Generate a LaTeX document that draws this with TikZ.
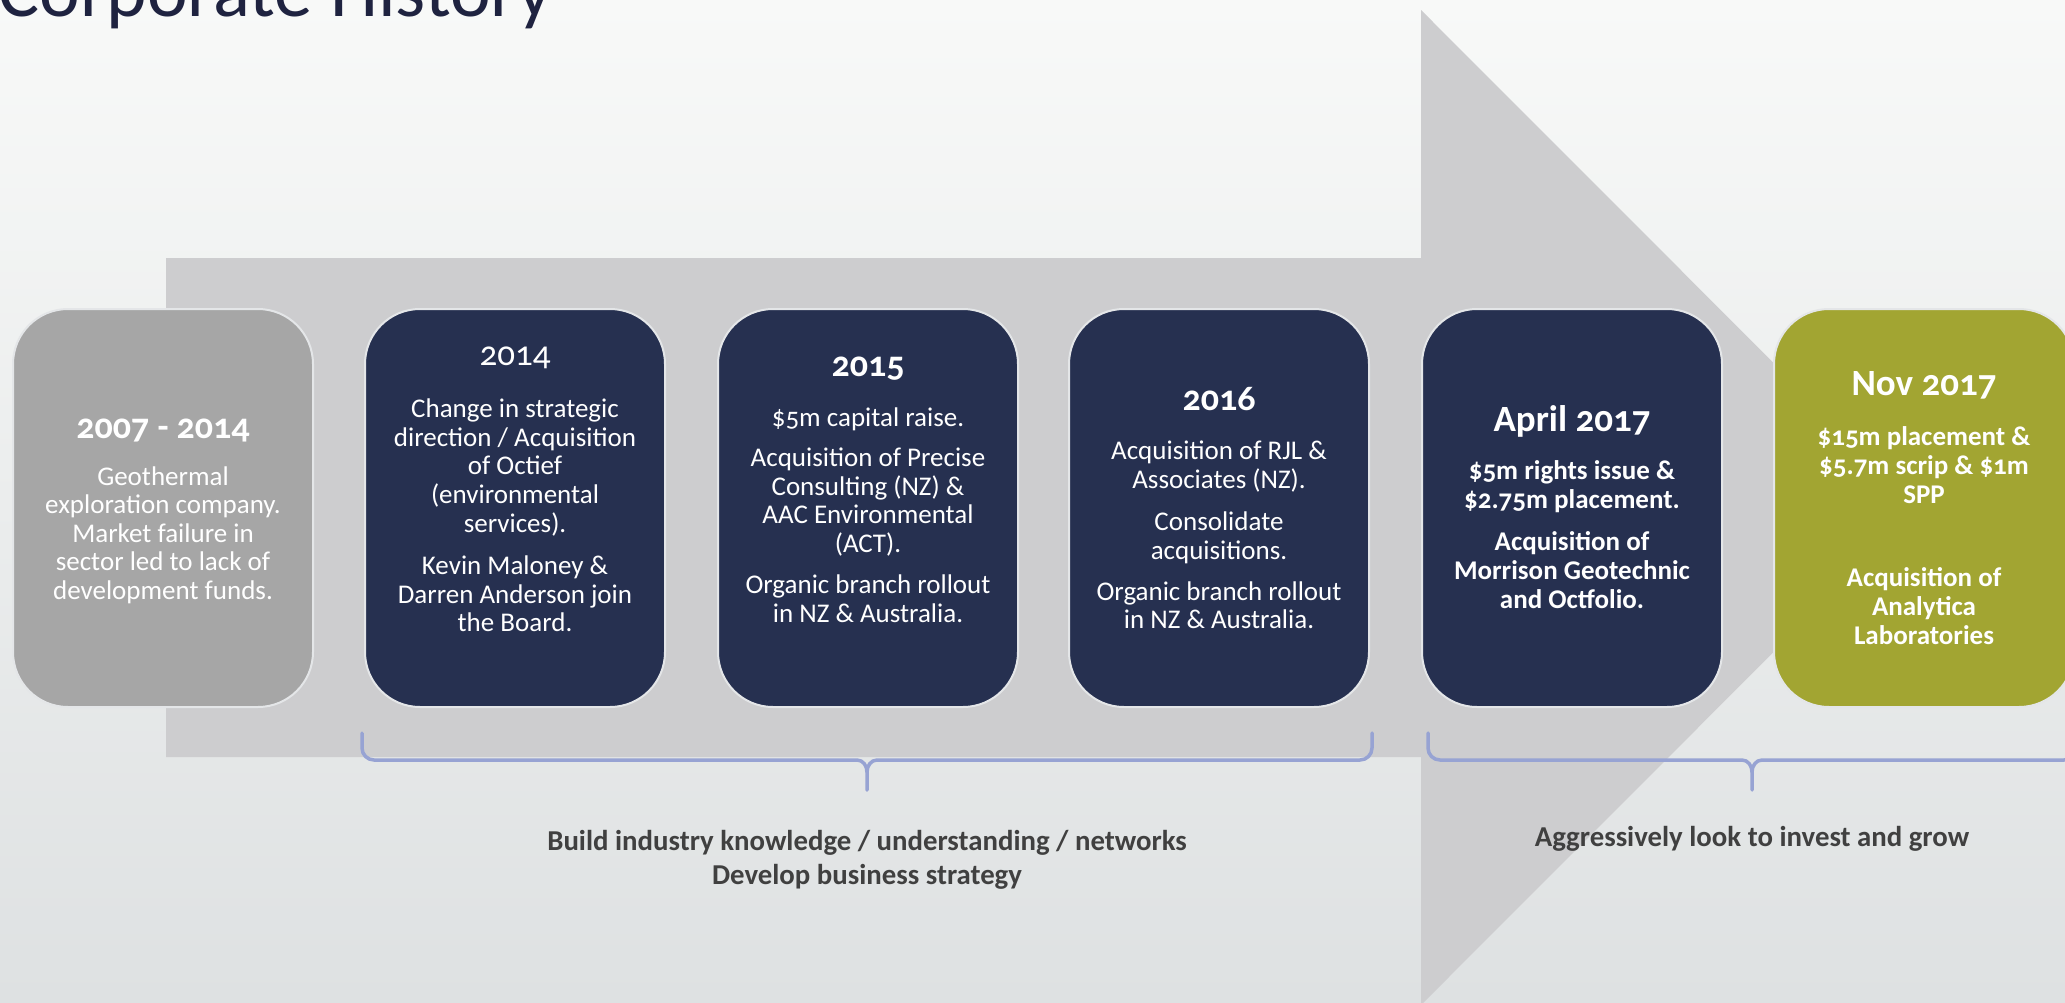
\documentclass[tikz,border=0pt]{standalone}
\usepackage{fontspec}
\setmainfont{Carlito}[Numbers=OldStyle]
\usetikzlibrary{shapes.misc}

\definecolor{bgtop}{HTML}{F8F9F8}
\definecolor{bgbot}{HTML}{DEE1E2}
\definecolor{arrowgray}{HTML}{CDCDCF}
\definecolor{navy}{HTML}{263050}
\definecolor{stonegray}{HTML}{A6A6A6}
\definecolor{olive}{HTML}{A2A532}
\definecolor{rim}{HTML}{E4E6E8}
\definecolor{bracecol}{HTML}{97A3D3}
\definecolor{captioncol}{HTML}{404040}
\definecolor{titlecol}{HTML}{1F2340}

\tikzset{
  card/.style={draw=rim, line width=2pt, rounded corners=55pt,
    minimum width=300pt, minimum height=398pt, inner sep=0pt},
  yearlbl/.style={text=white, font=\fontsize{36}{40}\selectfont\bfseries, inner sep=0pt},
  bodytxt/.style={text=white, align=center, inner sep=0pt,
    font=\fontsize{27}{28.6}\selectfont},
  boldbody/.style={bodytxt, font=\fontsize{27}{29}\selectfont\bfseries},
  bracestyle/.style={draw=bracecol, line width=3.5pt, line cap=round, line join=round},
  caption/.style={text=captioncol, align=center, inner sep=0pt,
    font=\fontsize{28.8}{34}\selectfont\bfseries}
}

\begin{document}
\begin{tikzpicture}[x=1pt, y=-1pt]
  % canvas
  \useasboundingbox (0,0) rectangle (2065,1002);
  \clip (0,0) rectangle (2065,1002);
  \shade[top color=bgtop, bottom color=bgbot] (0,0) rectangle (2065,1002);

  % heading, running off the top-left corner
  \node[anchor=base east, inner sep=0pt, text=titlecol,
        font=\fontsize{77}{84}\selectfont] (heading) at (553,16) {Corporate History};

  % big timeline arrow
  \fill[arrowgray] (166,258) -- (1421,258) -- (1421,10) -- (1918,507.5)
     -- (1421,1005) -- (1421,757) -- (166,757) -- cycle;

  % cards
  \node[card, fill=stonegray] (c1) at (163,508) {};
  \node[card, fill=navy]      (c2) at (515,508) {};
  \node[card, fill=navy]      (c3) at (868,508) {};
  \node[card, fill=navy]      (c4) at (1219,508) {};
  \node[card, fill=navy]      (c5) at (1572,508) {};
  \node[card, fill=olive]     (c6) at (1924,508) {};

  % 2007 - 2014
  \node[yearlbl] (y1) at (163,430) {2007 - 2014};
  \node[bodytxt] (t1) at (163,535) {Geothermal\\exploration company.\\Market failure in\\sector led to lack of\\development funds.};

  % 2014
  \node[yearlbl, font=\fontsize{35}{40}\selectfont] (y2) at (515,358) {2014};
  \node[bodytxt] (t2) at (515,515.5) {Change in strategic\\direction / Acquisition\\of Octief\\(environmental\\services).\\[14pt]Kevin Maloney \&\\Darren Anderson join\\the Board.};

  % 2015
  \node[yearlbl] (y3) at (868,369) {2015};
  \node[bodytxt] (t3) at (868,515.5) {\$5m capital raise.\\[11pt]Acquisition of Precise\\Consulting (NZ) \&\\AAC Environmental\\(ACT).\\[13pt]Organic branch rollout\\in NZ \& Australia.};

  % 2016
  \node[yearlbl] (y4) at (1219,399) {2016};
  \node[bodytxt] (t4) at (1219,535) {Acquisition of RJL \&\\Associates (NZ).\\[14pt]Consolidate\\acquisitions.\\[12pt]Organic branch rollout\\in NZ \& Australia.};

  % April 2017
  \node[yearlbl, font=\fontsize{37}{40}\selectfont\bfseries] (y5) at (1572,421) {April 2017};
  \node[boldbody] (t5) at (1572,535) {\$5m rights issue \&\\\$2.75m placement.\\[13pt]Acquisition of\\Morrison Geotechnic\\and Octfolio.};

  % Nov 2017
  \node[yearlbl, font=\fontsize{37}{40}\selectfont\bfseries] (y6) at (1924,385) {Nov 2017};
  \node[boldbody] (t6) at (1924,535.5) {\$15m placement \&\\\$5.7m scrip \& \$1m\\SPP\\[54pt]Acquisition of\\Analytica\\Laboratories};

  % braces under the timeline
  \coordinate (b1l) at (362,733);
  \coordinate (b1m) at (867,790);
  \coordinate (b1r) at (1372,733);
  \draw[bracestyle] (b1l) -- (362,748) to[out=-90,in=180] (374,760) -- (857,760)
      to[out=0,in=90] (b1m |- 0,772) -- (b1m);
  \draw[bracestyle] (b1m |- 0,772) to[out=90,in=180] (877,760) -- (1360,760)
      to[out=0,in=-90] (1372,748) -- (b1r);

  \coordinate (b2l) at (1428,733);
  \coordinate (b2m) at (1752,790);
  \coordinate (b2r) at (2076,733);
  \draw[bracestyle] (b2l) -- (1428,748) to[out=-90,in=180] (1440,760) -- (1742,760)
      to[out=0,in=90] (b2m |- 0,772) -- (b2m);
  \draw[bracestyle] (b2m |- 0,772) to[out=90,in=180] (1762,760) -- (2064,760)
      to[out=0,in=-90] (2076,748) -- (b2r);

  % captions
  \node[caption] (cap1) at (867,860) {Build industry knowledge / understanding / networks\\Develop business strategy};
  \node[caption] (cap2) at (1752,839) {Aggressively look to invest and grow};
\end{tikzpicture}
\end{document}
